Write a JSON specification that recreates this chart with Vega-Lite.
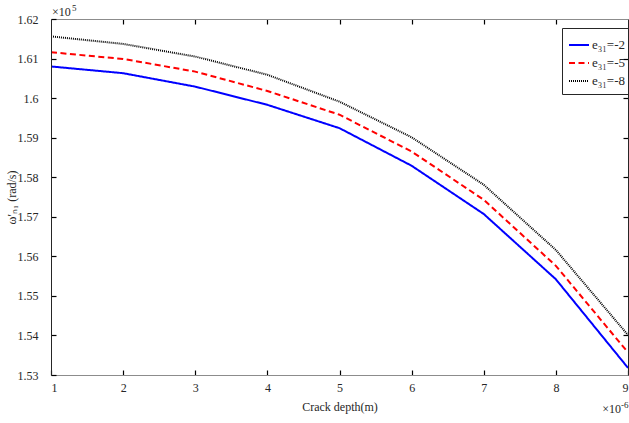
{
  "$schema": "https://vega.github.io/schema/vega-lite/v6.json",
  "width": 577,
  "height": 356,
  "autosize": {"type": "none"},
  "padding": {"left": 51, "top": 19, "right": 1, "bottom": 48},
  "background": "white",
  "config": {
    "font": "Liberation Serif",
    "view": {"stroke": null},
    "text": {"font": "Liberation Serif"},
    "axis": {
      "grid": false,
      "ticks": true,
      "labelFont": "Liberation Serif",
      "titleFont": "Liberation Serif",
      "labelFontSize": 12,
      "titleFontSize": 12,
      "titleFontWeight": "normal",
      "labelColor": "#262626",
      "titleColor": "#262626",
      "tickColor": "#000000",
      "tickOpacity": 1,
      "tickWidth": 1.2,
      "domainColor": "#262626"
    },
    "legend": {
      "labelFont": "Liberation Serif",
      "labelFontSize": 13,
      "labelColor": "#262626"
    }
  },
  "data": {
    "values": [
      {"depth": 1, "omega": 1.6080, "series": "e₃₁=-2"},
      {"depth": 2, "omega": 1.6063, "series": "e₃₁=-2"},
      {"depth": 3, "omega": 1.6029, "series": "e₃₁=-2"},
      {"depth": 4, "omega": 1.5983, "series": "e₃₁=-2"},
      {"depth": 5, "omega": 1.5924, "series": "e₃₁=-2"},
      {"depth": 6, "omega": 1.5829, "series": "e₃₁=-2"},
      {"depth": 7, "omega": 1.5707, "series": "e₃₁=-2"},
      {"depth": 8, "omega": 1.5542, "series": "e₃₁=-2"},
      {"depth": 9, "omega": 1.5318, "series": "e₃₁=-2"},
      {"depth": 1, "omega": 1.6116, "series": "e₃₁=-5"},
      {"depth": 2, "omega": 1.6099, "series": "e₃₁=-5"},
      {"depth": 3, "omega": 1.6067, "series": "e₃₁=-5"},
      {"depth": 4, "omega": 1.6018, "series": "e₃₁=-5"},
      {"depth": 5, "omega": 1.5958, "series": "e₃₁=-5"},
      {"depth": 6, "omega": 1.5865, "series": "e₃₁=-5"},
      {"depth": 7, "omega": 1.5743, "series": "e₃₁=-5"},
      {"depth": 8, "omega": 1.5576, "series": "e₃₁=-5"},
      {"depth": 9, "omega": 1.5357, "series": "e₃₁=-5"},
      {"depth": 1, "omega": 1.6156, "series": "e₃₁=-8"},
      {"depth": 2, "omega": 1.6137, "series": "e₃₁=-8"},
      {"depth": 3, "omega": 1.6105, "series": "e₃₁=-8"},
      {"depth": 4, "omega": 1.6059, "series": "e₃₁=-8"},
      {"depth": 5, "omega": 1.5991, "series": "e₃₁=-8"},
      {"depth": 6, "omega": 1.5901, "series": "e₃₁=-8"},
      {"depth": 7, "omega": 1.5781, "series": "e₃₁=-8"},
      {"depth": 8, "omega": 1.5616, "series": "e₃₁=-8"},
      {"depth": 9, "omega": 1.5401, "series": "e₃₁=-8"}
    ]
  },
  "layer": [
    {
      "mark": {"type": "line", "clip": true},
      "encoding": {
        "x": {
          "field": "depth",
          "type": "quantitative",
          "scale": {"domain": [1, 9], "nice": false},
          "axis": {
            "orient": "bottom",
            "values": [1, 2, 3, 4, 5, 6, 7, 8, 9],
            "format": "d",
            "tickSize": -5,
            "labelPadding": 12,
            "domainColor": "#8c8c8c",
            "title": "Crack depth(m)",
            "titlePadding": 8,
            "zindex": 2
          }
        },
        "y": {
          "field": "omega",
          "type": "quantitative",
          "scale": {"domain": [1.53, 1.62], "nice": false, "zero": false},
          "axis": {
            "orient": "left",
            "values": [1.53, 1.54, 1.55, 1.56, 1.57, 1.58, 1.59, 1.6, 1.61, 1.62],
            "format": ".2~f",
            "tickSize": -5,
            "labelPadding": 18,
            "title": "ω′ₙ₁ (rad/s)",
            "titlePadding": -1,
            "zindex": 2
          }
        },
        "color": {
          "field": "series",
          "type": "nominal",
          "scale": {"domain": ["e₃₁=-2", "e₃₁=-5", "e₃₁=-8"], "range": ["#0000ff", "#ff0000", "#000000"]},
          "legend": {
            "title": null,
            "orient": "none",
            "legendX": 511,
            "legendY": 9,
            "symbolType": "stroke",
            "symbolSize": 400,
            "rowPadding": 0,
            "padding": 6,
            "strokeColor": "#262626",
            "fillColor": "white",
            "labelOffset": 2
          }
        },
        "strokeDash": {
          "field": "series",
          "type": "nominal",
          "scale": {"domain": ["e₃₁=-2", "e₃₁=-5", "e₃₁=-8"], "range": [[1, 0], [6, 3.5], [1, 1]]}
        },
        "strokeWidth": {
          "field": "series",
          "type": "nominal",
          "scale": {"domain": ["e₃₁=-2", "e₃₁=-5", "e₃₁=-8"], "range": [2, 2, 1.3]}
        }
      }
    },
    {
      "mark": {"type": "point", "opacity": 0},
      "encoding": {
        "x": {
          "field": "depth",
          "type": "quantitative",
          "axis": {"orient": "top", "values": [2, 3, 4, 5, 6, 7, 8], "tickSize": -5, "labels": false, "title": null, "domainColor": "#8c8c8c", "zindex": 2}
        },
        "y": {
          "field": "omega",
          "type": "quantitative",
          "axis": {"orient": "right", "values": [1.54, 1.55, 1.56, 1.57, 1.58, 1.59, 1.6, 1.61], "tickSize": -5, "labels": false, "title": null, "domainColor": "#262626", "zindex": 2}
        }
      }
    },
    {
      "data": {"values": [{}]},
      "mark": {"type": "text", "text": "×10", "align": "left", "baseline": "alphabetic", "dy": -3, "dx": 1, "fontSize": 12, "font": "Liberation Serif", "color": "#262626"},
      "encoding": {
        "x": {"datum": 1, "type": "quantitative", "axis": null},
        "y": {"datum": 1.62, "type": "quantitative", "axis": null}
      }
    },
    {
      "data": {"values": [{}]},
      "mark": {"type": "text", "text": "5", "align": "left", "baseline": "alphabetic", "dy": -8, "dx": 21, "fontSize": 9, "font": "Liberation Serif", "color": "#262626"},
      "encoding": {
        "x": {"datum": 1, "type": "quantitative", "axis": null},
        "y": {"datum": 1.62, "type": "quantitative", "axis": null}
      }
    },
    {
      "data": {"values": [{}]},
      "mark": {"type": "text", "text": "×10", "align": "right", "baseline": "alphabetic", "dy": 38, "dx": -7, "fontSize": 12, "font": "Liberation Serif", "color": "#262626"},
      "encoding": {
        "x": {"datum": 9, "type": "quantitative", "axis": null},
        "y": {"datum": 1.53, "type": "quantitative", "axis": null}
      }
    },
    {
      "data": {"values": [{}]},
      "mark": {"type": "text", "text": "-6", "align": "left", "baseline": "alphabetic", "dy": 33, "dx": -7, "fontSize": 9, "font": "Liberation Serif", "color": "#262626"},
      "encoding": {
        "x": {"datum": 9, "type": "quantitative", "axis": null},
        "y": {"datum": 1.53, "type": "quantitative", "axis": null}
      }
    }
  ],
  "resolve": {"axis": {"x": "independent", "y": "independent"}}
}
